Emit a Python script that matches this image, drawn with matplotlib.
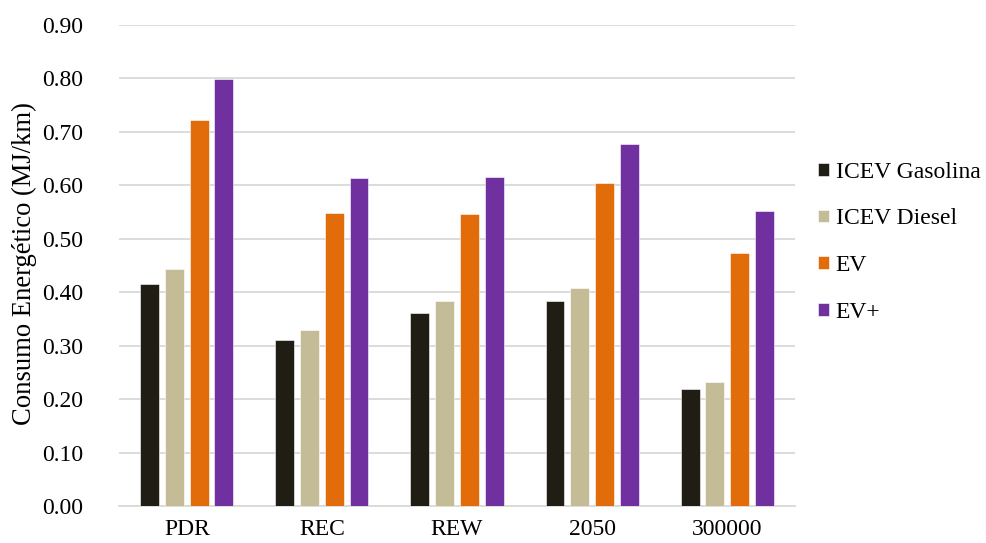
import matplotlib
matplotlib.use("Agg")
import matplotlib.pyplot as plt
import numpy as np

plt.rcParams['font.family'] = ['Liberation Serif', 'DejaVu Serif']

# datos
escenarios = ['PDR', 'REC', 'REW', '2050', '300000']
gasolina = [0.415, 0.311, 0.361, 0.383, 0.219]
diesel = [0.443, 0.329, 0.383, 0.408, 0.232]
ev = [0.722, 0.548, 0.546, 0.604, 0.473]
ev_plus = [0.799, 0.614, 0.616, 0.677, 0.552]

series = [('ICEV Gasolina', gasolina, '#201E14'),
          ('ICEV Diesel', diesel, '#C4BC96'),
          ('EV', ev, '#E36C0A'),
          ('EV+', ev_plus, '#7030A0')]

fig = plt.figure(figsize=(9.86, 5.43), dpi=100)
ax = fig.add_axes([0.121, 0.068, 0.685, 0.886])

x = np.arange(len(escenarios))
paso = 0.183
ancho = 0.14
for i, (nombre, vals, color) in enumerate(series):
    ax.bar(x + (i - 1.5) * paso, vals, ancho, color=color, label=nombre,
           edgecolor='#FFFFFF', linewidth=0.4, zorder=3)

ax.set_xlim(-0.5, len(escenarios) - 0.5)
ax.set_ylim(0, 0.9)
ax.set_yticks(np.arange(0, 0.91, 0.1))
ax.set_yticklabels([f"{v:.2f}" for v in np.arange(0, 0.91, 0.1)])
ax.set_xticks(x)
ax.set_xticklabels(escenarios)
ax.tick_params(axis='both', length=0, labelsize=17, colors='black')
ax.tick_params(axis='y', pad=26)
ax.tick_params(axis='x', pad=9)
ax.grid(axis='y', color='#D9D9D9', linewidth=1.3, zorder=0)
for s in ['top', 'right', 'left']:
    ax.spines[s].set_visible(False)
ax.spines['bottom'].set_color('#D9D9D9')
ax.spines['bottom'].set_linewidth(1.3)
ax.set_ylabel('Consumo Energético (MJ/km)', fontsize=19.2, va='center')
ax.yaxis.set_label_coords(-0.141, 0.505)

fig.legend(loc='center left', bbox_to_anchor=(0.8296, 0.554), frameon=False,
           fontsize=17, handlelength=0.45, handleheight=0.45, handletextpad=0.3,
           labelspacing=1.09, borderaxespad=0, borderpad=0)

fig.savefig('out.png', dpi=100)
